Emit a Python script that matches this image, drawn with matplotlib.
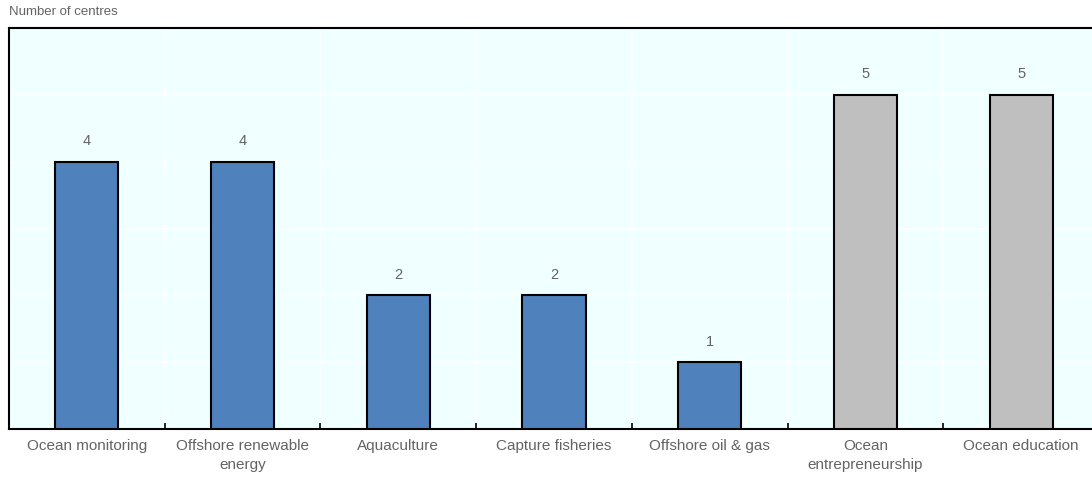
import numpy as np
import matplotlib.pyplot as plt

categories = ['Ocean monitoring', 'Offshore renewable\nenergy', 'Aquaculture',
              'Capture fisheries', 'Offshore oil & gas', 'Ocean\nentrepreneurship',
              'Ocean education']
values = [4, 4, 2, 2, 1, 5, 5]
is_cross = [False, False, False, False, False, True, True]

BLUE = '#4F81BD'
GREY = '#BFBFBF'
TXT = '#636363'

plt.rcParams['font.family'] = ['Liberation Sans', 'DejaVu Sans']

fig = plt.figure(figsize=(10.92, 4.79), dpi=100)
ax = fig.add_axes([0.0082, 0.1044, 0.9918, 0.8371])
ax.set_facecolor('#F0FFFF')

x = np.arange(len(categories))
colors = [GREY if c else BLUE for c in is_cross]
ax.bar(x, values, width=0.405, color=colors, edgecolor='black', linewidth=1.5, zorder=3)
for xi, v in zip(x, values):
    ax.text(xi, v + 0.2, str(v), ha='center', va='bottom', fontsize=10.5, color=TXT)

# right edge of the plot is slightly cropped in the original
ax.set_xlim(-0.5, len(categories) - 0.545)
ax.set_ylim(0, 6)

# white grid
for yv in range(1, 6):
    ax.axhline(yv, color='white', lw=1.2, zorder=1)
for xb in np.arange(0.5, len(categories) - 0.5, 1):
    ax.axvline(xb, color='white', lw=1.2, zorder=1)

ax.set_yticks([])
ax.set_xticks(x)
ax.set_xticklabels(categories, fontsize=11, color=TXT, linespacing=1.45)
ax.tick_params(axis='x', length=0, pad=7)
ax.set_xticks(np.arange(0.5, len(categories) - 0.5, 1), minor=True)
ax.tick_params(axis='x', which='minor', direction='in', length=4, width=1.2, color='black')

for s in ['left', 'top', 'bottom']:
    ax.spines[s].set_linewidth(1.5)
    ax.spines[s].set_color('black')
ax.spines['right'].set_visible(False)

fig.text(0.0082, 0.975, 'Number of centres', fontsize=9.5, color=TXT, ha='left', va='center')

fig.savefig('out.png', dpi=100)
